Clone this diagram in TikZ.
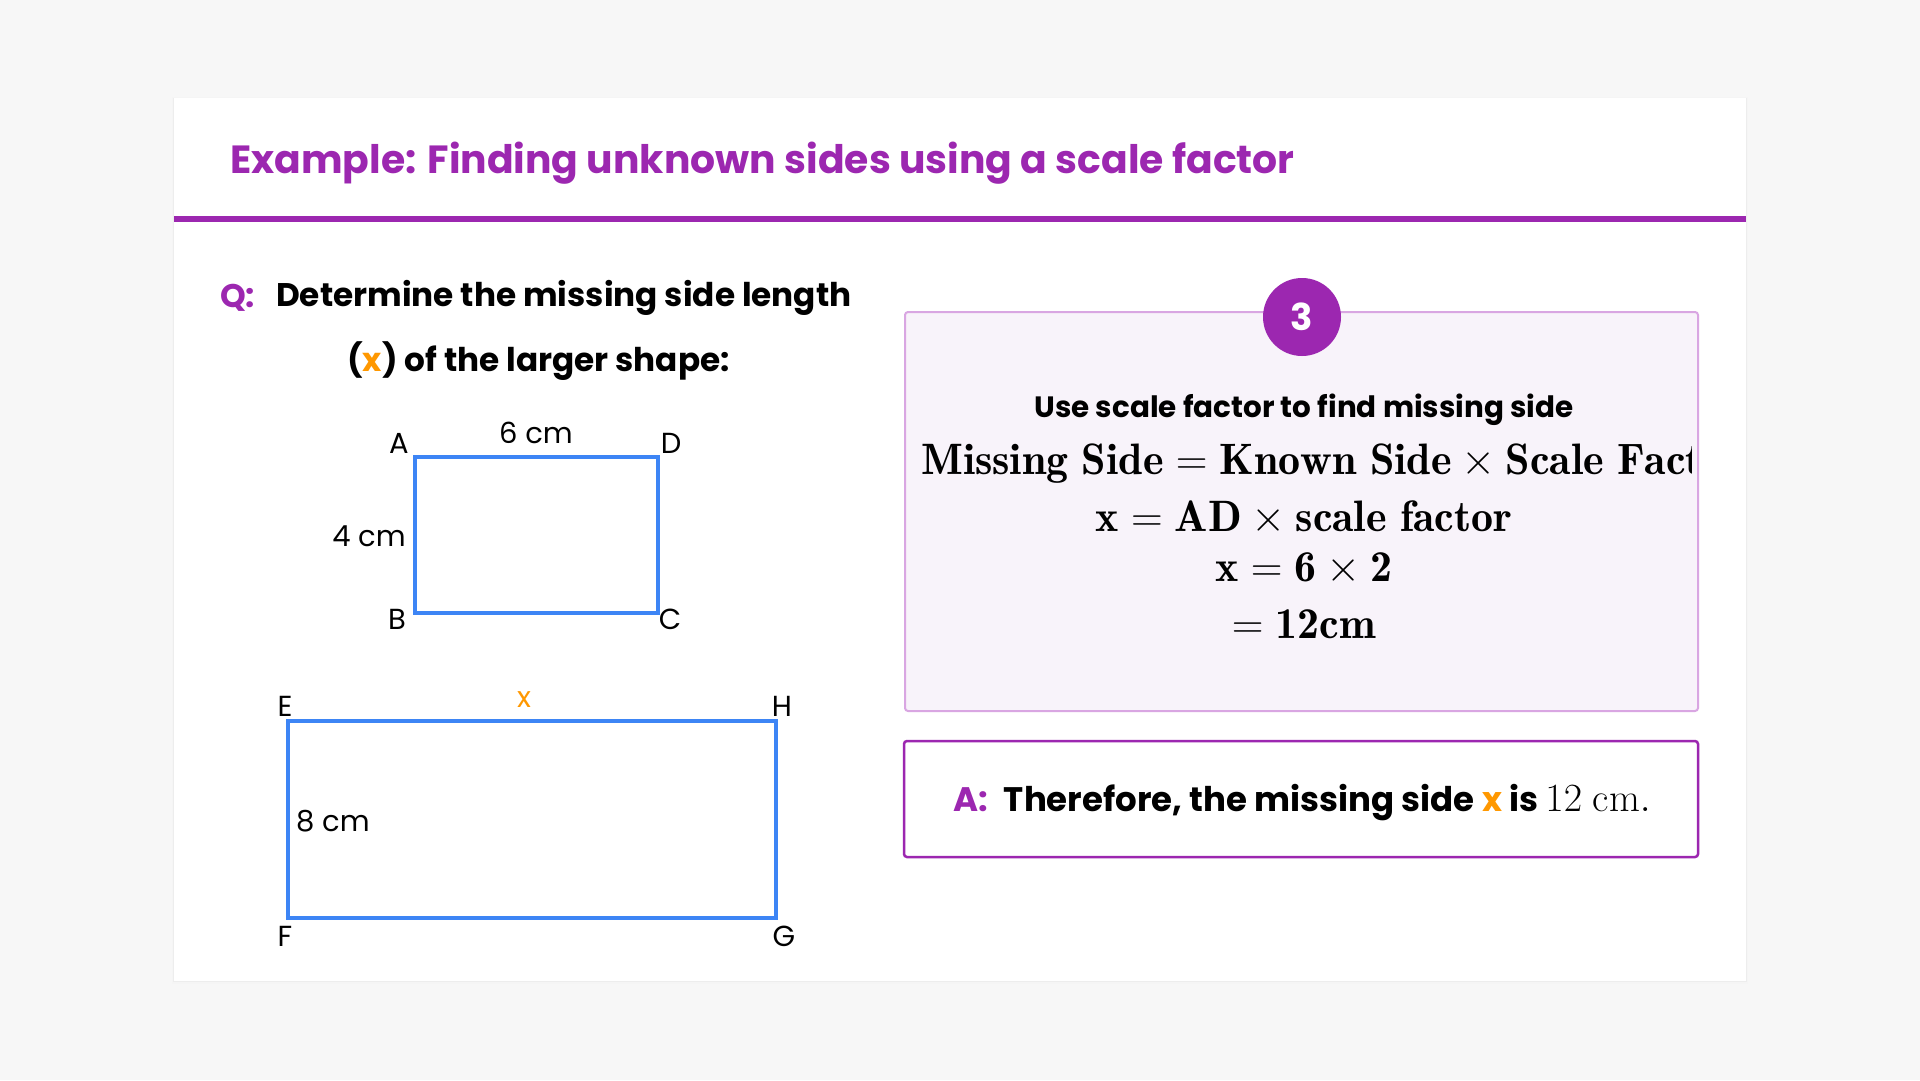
\RequirePackage{fix-cm}
\documentclass[tikz,border=0pt]{standalone}
\usepackage{fontspec}
\newfontfamily\pop{Poppins}
\definecolor{bgc}{HTML}{F7F7F7}
\definecolor{purp}{HTML}{9C27B0}
\definecolor{lpurp}{HTML}{D9A6E2}
\definecolor{boxfill}{HTML}{F8F3FA}
\definecolor{orng}{HTML}{FF9800}
\definecolor{shapeblue}{HTML}{3D85F5}
\tikzset{
  lbl/.style={font=\pop\fontsize{29}{34}\selectfont, inner sep=0pt},
  shapeline/.style={draw=shapeblue, line width=3.5pt, line join=miter},
  mathline/.style={font=\fontsize{44}{52}\selectfont, inner sep=0pt},
  qtext/.style={font=\pop\bfseries\fontsize{32.7}{38}\selectfont, inner sep=0pt, anchor=west},
}
\begin{document}
\begin{tikzpicture}[x=1pt,y=-1pt]
\fill[bgc] (0,0) rectangle (1920,1080);
\useasboundingbox (0,0) rectangle (1920,1080);
% card
\fill[black!4] (172,97) rectangle (1748,984);
\fill[black!7] (173,98) rectangle (1747,982);
\fill[white] (174,98) rectangle (1746,981);
\fill[purp] (174,216) rectangle (1746,222);
\node[anchor=west, inner sep=0pt, text=purp, font=\pop\bfseries\fontsize{39.3}{46}\selectfont] (title) at (230,163) {Example: Finding unknown sides using a scale factor};

% question
\node[qtext, text=purp] (q) at (220,298) {Q:};
\node[qtext] (q1) at (276,298) {Determine the missing side length};
\node[qtext] (q2) at (347,361) {({\color{orng}x}) of the larger shape:};

% small rectangle
\coordinate (A) at (415,457);
\coordinate (D) at (658,457);
\coordinate (C) at (658,613);
\coordinate (B) at (415,613);
\draw[shapeline] (A) -- (D) -- (C) -- (B) -- cycle;
\node[lbl] (la) at (399,443) {A};
\node[lbl] (ld) at (671,443) {D};
\node[lbl] (lb) at (397,619) {B};
\node[lbl] (lc) at (670,619) {C};
\node[lbl] (l6) at (536,433) {6 cm};
\node[lbl] (l4) at (369,536) {4 cm};

% large rectangle
\coordinate (E) at (288,721);
\coordinate (H) at (776,721);
\coordinate (G) at (776,918);
\coordinate (F) at (288,918);
\draw[shapeline] (E) -- (H) -- (G) -- (F) -- cycle;
\node[lbl] (le) at (285,706) {E};
\node[lbl] (lh) at (782,706) {H};
\node[lbl] (lf) at (285,936) {F};
\node[lbl] (lg) at (784,936) {G};
\node[lbl, text=orng] (lx) at (524,700) {x};
\node[lbl, anchor=west] (l8) at (296,821) {8 cm};

% step box
\draw[draw=lpurp, fill=boxfill, line width=2pt, rounded corners=3pt] (905,312) rectangle (1698,711);
\node[circle, fill=purp, minimum size=78pt, inner sep=0pt, text=white, font=\pop\bfseries\fontsize{37}{44}\selectfont] (step) at (1302,317) {3};
\node[inner sep=0pt, font=\pop\bfseries\fontsize{29.4}{34}\selectfont] (sub) at (1304,410) {Use scale factor to find missing side};
\begin{scope}
\clip (906,330) rectangle (1691,700);
\node[mathline, anchor=west] (m1) at (921,464) {$\mathbf{Missing\ Side}=\mathbf{Known\ Side}\times\mathbf{Scale\ Factor}$};
\end{scope}
\node[mathline] (m2) at (1304,518) {$\mathbf{x}=\mathbf{AD}\times\mathbf{scale\ factor}$};
\node[mathline] (m3) at (1304,569) {$\mathbf{x}=\mathbf{6}\times\mathbf{2}$};
\node[mathline] (m4) at (1304,624) {$=\mathbf{12cm}$};

% answer box
\draw[draw=purp, fill=white, line width=2.5pt, rounded corners=3pt] (904,741) rectangle (1698,857);
\node[inner sep=0pt, font=\pop\bfseries\fontsize{34}{40}\selectfont] (ans) at (1302,803)
  {{\color{purp}A:}\hspace{16pt}Therefore, the missing side {\color{orng}x} is {\mdseries\fontsize{40}{46}\selectfont$12\ \mathrm{cm}.$}};
\end{tikzpicture}
\end{document}
